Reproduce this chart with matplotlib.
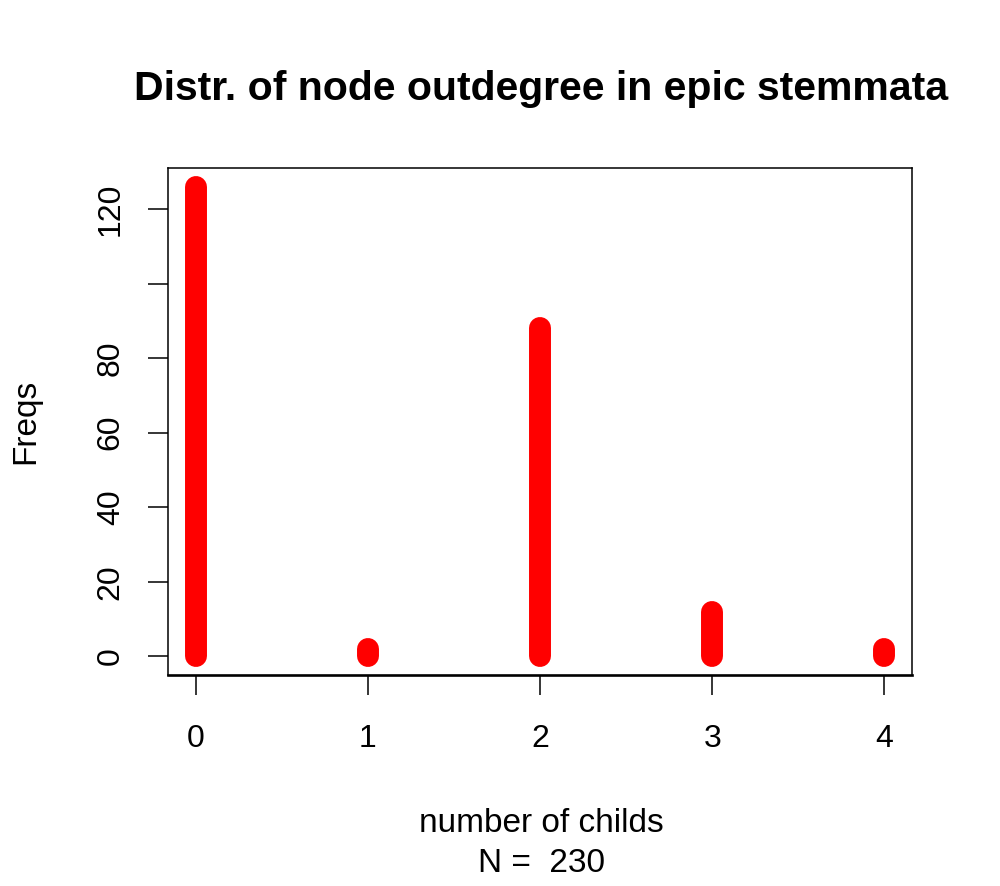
import matplotlib
matplotlib.use("Agg")
import matplotlib.pyplot as plt

plt.rcParams['font.family'] = ['Liberation Sans', 'DejaVu Sans']

outdegree = [0, 1, 2, 3, 4]
freqs = [126, 2, 88, 12, 2]
ytick_vals = [0, 20, 40, 60, 80, 100, 120]
ytick_labels = ['0', '20', '40', '60', '80', '', '120']
N = sum(freqs)

fig = plt.figure(figsize=(10, 8.86), dpi=100)
ax = fig.add_axes([0.168, 0.2381, 0.744, 0.5723])

ax.vlines(outdegree, 0, freqs, colors='red', linewidth=15.8, capstyle='round')

ax.set_xlim(-0.16, 4.16)
ax.set_ylim(-5.04, 131.04)
ax.set_xticks(outdegree)
ax.set_xticklabels([str(v) for v in outdegree])
ax.set_yticks(ytick_vals)
ax.set_yticklabels(ytick_labels, rotation=90, va='center')

for s in ax.spines.values():
    s.set_linewidth(1.1)
ax.spines['bottom'].set_linewidth(1.9)

ax.tick_params(axis='both', length=14.4, width=1.1, labelsize=23, color='black')
ax.tick_params(axis='x', pad=21)
ax.tick_params(axis='y', pad=16)

fig.text(0.5415, 1 - 100 / 886, 'Distr. of node outdegree in epic stemmata',
         ha='center', va='baseline', fontsize=29.5, fontweight='bold')
fig.text(0.541, 1 - 832 / 886, 'number of childs',
         ha='center', va='baseline', fontsize=24)
fig.text(0.541, 1 - 872 / 886, 'N =  %d' % N,
         ha='center', va='baseline', fontsize=24)
fig.text(0.026, 1 - 421.5 / 886, 'Freqs', ha='center', va='center',
         rotation=90, fontsize=24)

fig.savefig('out.png', dpi=100)
